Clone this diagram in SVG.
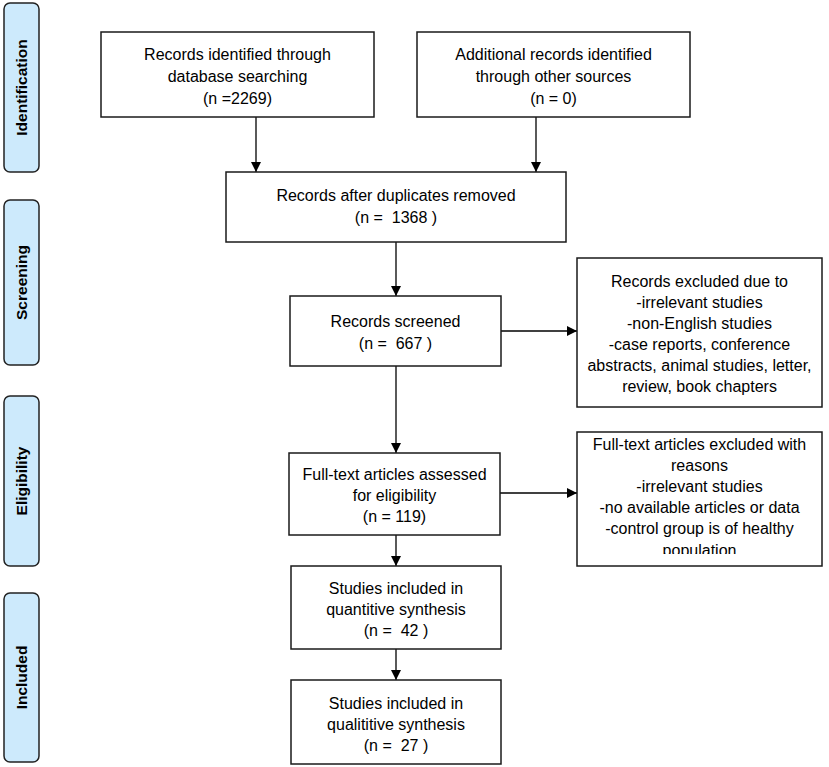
<svg xmlns="http://www.w3.org/2000/svg" width="829" height="767" viewBox="0 0 829 767">
<style>
.box{fill:#fff;stroke:#1a1a1a;stroke-width:1.5}
.lab{fill:#cdeafc;stroke:#222;stroke-width:1.5}
.t{font-family:"Liberation Sans",Arial,sans-serif;font-size:16px;fill:#000;text-anchor:middle;white-space:pre}
.lt{font-family:"Liberation Sans",Arial,sans-serif;font-size:15.5px;font-weight:bold;fill:#000;text-anchor:middle}
.c{stroke:#000;stroke-width:1.3;fill:none;marker-end:url(#ah)}
</style>
<defs>
<marker id="ah" markerUnits="userSpaceOnUse" markerWidth="10" markerHeight="10" refX="10" refY="5" orient="auto" viewBox="0 0 10 10">
<path d="M0,0 L10,5 L0,10 z" fill="#000"/>
</marker>
<clipPath id="clip7"><rect x="577" y="432" width="245" height="122"/></clipPath>
</defs>
<g id="stage-labels">
<g id="lab-identification"><rect class="lab" x="4" y="3" width="35" height="169" rx="6"/><text class="lt" transform="translate(27,87.5) rotate(-90)">Identification</text></g>
<g id="lab-screening"><rect class="lab" x="4" y="200" width="35" height="165" rx="6"/><text class="lt" transform="translate(27,282.5) rotate(-90)">Screening</text></g>
<g id="lab-eligibility"><rect class="lab" x="4" y="396" width="35" height="170" rx="6"/><text class="lt" transform="translate(27,481) rotate(-90)">Eligibility</text></g>
<g id="lab-included"><rect class="lab" x="4" y="593" width="35" height="169" rx="6"/><text class="lt" transform="translate(27,677.5) rotate(-90)">Included</text></g>
</g>
<g id="connectors">
<line class="c" x1="256" y1="117" x2="256" y2="172"/>
<line class="c" x1="536" y1="117" x2="536" y2="172"/>
<line class="c" x1="396" y1="242" x2="396" y2="296"/>
<line class="c" x1="501" y1="331" x2="577" y2="331"/>
<line class="c" x1="396" y1="366" x2="396" y2="453"/>
<line class="c" x1="500" y1="493" x2="577" y2="493"/>
<line class="c" x1="396" y1="535" x2="396" y2="566"/>
<line class="c" x1="396" y1="649" x2="396" y2="680"/>
</g>
<g id="n1"><rect class="box" x="101" y="32" width="273" height="85"/>
<text class="t" x="237.5" y="59.5">Records identified through</text>
<text class="t" x="237.5" y="81.5">database searching</text>
<text class="t" x="237.5" y="103.5">(n =2269)</text></g>
<g id="n2"><rect class="box" x="417" y="32" width="273" height="85"/>
<text class="t" x="553.5" y="59.5">Additional records identified</text>
<text class="t" x="553.5" y="81.5">through other sources</text>
<text class="t" x="553.5" y="103.5">(n = 0)</text></g>
<g id="n3"><rect class="box" x="226" y="172" width="340" height="70"/>
<text class="t" x="396" y="200.5">Records after duplicates removed</text>
<text class="t" x="396" y="222.5">(n =  1368 )</text></g>
<g id="n4"><rect class="box" x="290" y="296" width="211" height="70"/>
<text class="t" x="395.5" y="326.5">Records screened</text>
<text class="t" x="395.5" y="348.5">(n =  667 )</text></g>
<g id="n5"><rect class="box" x="577" y="258" width="245" height="149"/>
<text class="t" x="699.5" y="286.5">Records excluded due to</text>
<text class="t" x="699.5" y="307.5">-irrelevant studies</text>
<text class="t" x="699.5" y="328.5">-non-English studies</text>
<text class="t" x="699.5" y="349.5">-case reports, conference</text>
<text class="t" x="699.5" y="370.5">abstracts, animal studies, letter,</text>
<text class="t" x="699.5" y="391.5">review, book chapters</text></g>
<g id="n6"><rect class="box" x="289" y="453" width="211" height="82"/>
<text class="t" x="394.5" y="479.5">Full-text articles assessed</text>
<text class="t" x="394.5" y="500.5">for eligibility</text>
<text class="t" x="394.5" y="521.5">(n = 119)</text></g>
<g id="n7"><rect class="box" x="577" y="432" width="245" height="134"/>
<g clip-path="url(#clip7)">
<text class="t" x="699.5" y="449.5">Full-text articles excluded with</text>
<text class="t" x="699.5" y="470.5">reasons</text>
<text class="t" x="699.5" y="491.5">-irrelevant studies</text>
<text class="t" x="699.5" y="512.5">-no available articles or data</text>
<text class="t" x="699.5" y="533.5">-control group is of healthy</text>
<text class="t" x="699.5" y="555.5">population</text></g></g>
<g id="n8"><rect class="box" x="291" y="566" width="210" height="83"/>
<text class="t" x="396" y="593.5">Studies included in</text>
<text class="t" x="396" y="614.5">quantitive synthesis</text>
<text class="t" x="396" y="635.5">(n =  42 )</text></g>
<g id="n9"><rect class="box" x="291" y="680" width="210" height="84"/>
<text class="t" x="396" y="708.5">Studies included in</text>
<text class="t" x="396" y="729.5">qualititive synthesis</text>
<text class="t" x="396" y="750.5">(n =  27 )</text></g>
</svg>
